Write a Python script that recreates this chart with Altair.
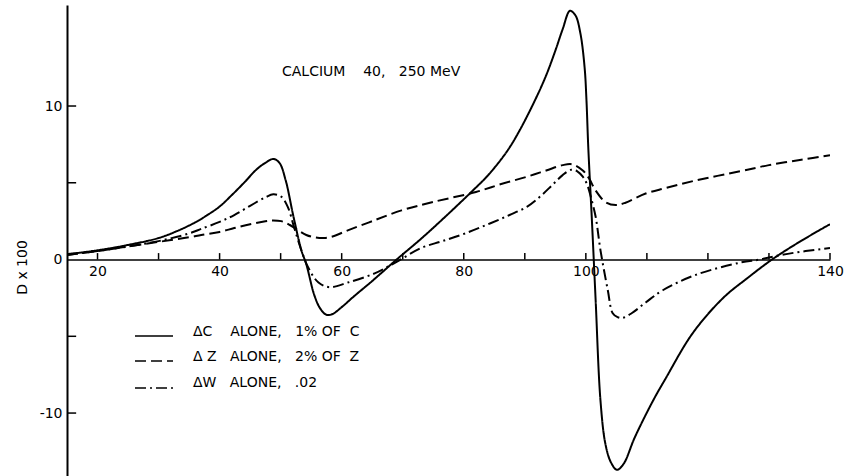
import altair as alt
import pandas as pd

# D x 100 versus angle for Calcium 40 at 250 MeV: one curve per varied parameter
c_x = [15, 20, 25, 30, 33, 36, 38, 40, 42, 44, 46, 47.5, 48.8, 49.8, 50.8, 52.1, 53.4,
       54.2, 55.5, 56.5, 57.5, 58.5, 60, 62, 65, 69, 73, 77, 81.5, 84, 87, 89, 91.7,
       93.5, 95, 96.2, 97.4, 98.3, 99.1, 99.8, 100.1, 100.4, 101, 101.6, 102.4, 103.2,
       104.1, 105.1, 106.2, 108, 111, 113, 117.5, 122.5, 126.5, 130.5, 135, 140]
c_y = [0.35, 0.6, 0.95, 1.4, 1.85, 2.42, 2.9, 3.45, 4.2, 5.0, 5.85, 6.3, 6.55, 6.3,
       5.2, 2.8, 0.6, -0.3, -2.3, -3.2, -3.6, -3.55, -3.1, -2.4, -1.4, 0, 1.35, 2.8, 4.5,
       5.5, 7.0, 8.3, 10.4, 12.0, 13.6, 15.0, 16.2, 15.9, 14.75, 12.5, 10.4, 7.3, 2.5,
       -2.6, -9.2, -12.0, -13.2, -13.7, -13.3, -11.6, -9.2, -7.8, -4.8, -2.5, -1.2, 0,
       1.15, 2.3]

z_x = [15, 20, 25, 30, 35, 37, 40, 42.4, 45, 47.5, 48.8, 50.1, 51.5, 52.9, 54.2,
       55.5, 57.1, 58.5, 61, 65, 69.8, 75, 82, 86, 90.4, 93.5, 96.2, 97.8, 99.5, 100.5,
       101.6, 103.2, 104.9, 106.5, 109.8, 113, 118, 125.3, 130, 135.3, 140]
z_y = [0.3, 0.55, 0.85, 1.15, 1.45, 1.6, 1.8, 2.05, 2.3, 2.5, 2.55, 2.5, 2.25, 1.9, 1.6,
       1.45, 1.4, 1.5, 1.9, 2.5, 3.2, 3.75, 4.4, 4.9, 5.4, 5.8, 6.15, 6.2, 5.8, 5.3,
       4.5, 3.75, 3.55, 3.7, 4.3, 4.65, 5.15, 5.75, 6.15, 6.5, 6.8]

w_x = [15, 20, 25, 30, 35, 37, 40, 42.4, 45, 47.5, 48.8, 50.1, 51.2, 52.2, 53.4,
       54.5, 56.2, 58, 61, 65.4, 69, 73, 76.5, 80.2, 84, 87.5, 90.4, 92.5, 94.5, 96.2,
       97.6, 98.6, 99.5, 100.2, 100.8, 101.6, 102.4, 103.6, 104.4, 105.2, 106, 107.5,
       109.8, 112.6, 118, 125.3, 128.5, 132, 136, 140]
w_y = [0.3, 0.55, 0.85, 1.2, 1.7, 2.0, 2.45, 2.9, 3.5, 4.05, 4.25, 4.1, 3.4, 2.1, 0.6,
       -0.5, -1.5, -1.8, -1.5, -0.9, -0.15, 0.75, 1.2, 1.7, 2.3, 2.9, 3.45, 4.1, 4.85,
       5.5, 5.85, 5.75, 5.4, 4.9, 4.1, 2.8, 0.6, -2.0, -3.5, -3.75, -3.8, -3.5,
       -2.8, -2.0, -1.0, -0.2, 0.0, 0.3, 0.55, 0.75]

series_names = ["C", "Z", "W"]
legend_labels = ["\u0394C\u00a0\u00a0\u00a0 ALONE,\u00a0\u00a0 1% OF\u00a0 C",
                 "\u0394 Z\u00a0\u00a0 ALONE,\u00a0\u00a0 2% OF\u00a0 Z",
                 "\u0394W\u00a0\u00a0 ALONE,\u00a0\u00a0 .02"]
title_text = "CALCIUM\u00a0\u00a0\u00a0 40,\u00a0\u00a0 250 MeV"

x_tick_values = [20, 30, 40, 50, 60, 70, 80, 90, 100, 110, 120, 130, 140]
x_label_values = [20, 40, 60, 80, 100, 140]
y_tick_values = [-10, -5, 5, 10]
y_label_values = [-10, 0, 10]

FONT = "DejaVu Sans"
dash_styles = [[1, 0], [11, 5], [11, 4, 2, 4]]

df = pd.concat([
    pd.DataFrame({"x": xs, "y": ys, "series": name})
    for name, xs, ys in zip(series_names, [c_x, z_x, w_x], [c_y, z_y, w_y])
], ignore_index=True)

W, H = 763, 471
x_scale = alt.Scale(domain=[15, 140], nice=False, zero=False)
y_scale = alt.Scale(domain=[-14.1, 16.58], nice=False, zero=False)

# x axis drawn along the zero line, y axis on the left edge
x_axis = alt.Axis(
    values=x_label_values, offset=-216.5, ticks=False, grid=False, title=None,
    domainColor="black", domainWidth=1.6, labelFont=FONT, labelFontSize=14,
    labelColor="black", labelPadding=5, labelFlush=False)
y_axis = alt.Axis(
    values=y_label_values, ticks=False, grid=False, title="D x 100",
    labelExpr="datum.value < 0 ? '-' + abs(datum.value) : '' + datum.value",
    domainColor="black", domainWidth=2, labelFont=FONT, labelFontSize=14,
    labelColor="black", labelPadding=5, titleFont=FONT, titleFontSize=14,
    titleFontWeight="normal", titleColor="black", titleAngle=270,
    titleX=-45, titleY=262, titleAlign="center", titleBaseline="middle")

curves = alt.Chart(df).mark_line(
    color="black", strokeWidth=2, interpolate="catmull-rom", clip=True
).encode(
    x=alt.X("x:Q", scale=x_scale, axis=x_axis),
    y=alt.Y("y:Q", scale=y_scale, axis=y_axis),
    strokeDash=alt.StrokeDash("series:N", scale=alt.Scale(
        domain=series_names, range=dash_styles), legend=None),
    detail="series:N",
)

# inward tick marks on the zero line and on the vertical axis
x_ticks = alt.Chart(pd.DataFrame({"x": x_tick_values})).mark_rule(
    color="black", strokeWidth=1.5
).encode(
    x=alt.X("x:Q", scale=x_scale, axis=x_axis),
    y=alt.YDatum(0, scale=y_scale, axis=y_axis),
    y2=alt.Y2Datum(0.42),
)

y_ticks = alt.Chart(pd.DataFrame({"y": y_tick_values})).mark_rule(
    color="black", strokeWidth=1.5
).encode(
    y=alt.Y("y:Q", scale=y_scale, axis=y_axis),
    x=alt.XDatum(15, scale=x_scale, axis=x_axis),
    x2=alt.X2Datum(16.5),
)

layers = [curves, x_ticks, y_ticks]

# hand-drawn style key
key_line_y = [331, 356, 383]
key_text_y = [327, 352, 378]
for label, dash, ly, ty in zip(legend_labels, dash_styles, key_line_y, key_text_y):
    layers.append(
        alt.Chart(pd.DataFrame({"label": [label]})).mark_rule(
            color="black", strokeWidth=1.6, strokeDash=dash
        ).encode(x=alt.value(68), x2=alt.value(106), y=alt.value(ly))
    )
    layers.append(
        alt.Chart(pd.DataFrame({"label": [label]})).mark_text(
            align="left", baseline="middle", font=FONT, fontSize=14, color="black"
        ).encode(text="label:N", x=alt.value(126), y=alt.value(ty))
    )

layers.append(
    alt.Chart(pd.DataFrame({"label": [title_text]})).mark_text(
        align="left", baseline="middle", font=FONT, fontSize=14, color="black"
    ).encode(text="label:N", x=alt.value(215), y=alt.value(67))
)

chart = alt.layer(*layers).properties(
    width=W, height=H,
    padding={"left": 67, "top": 5, "right": 15, "bottom": 0},
    autosize=alt.AutoSizeParams(type="none"),
    background="white",
).configure_view(stroke=None)

chart.save("out.html", embed_options={"renderer": "svg", "actions": False})
